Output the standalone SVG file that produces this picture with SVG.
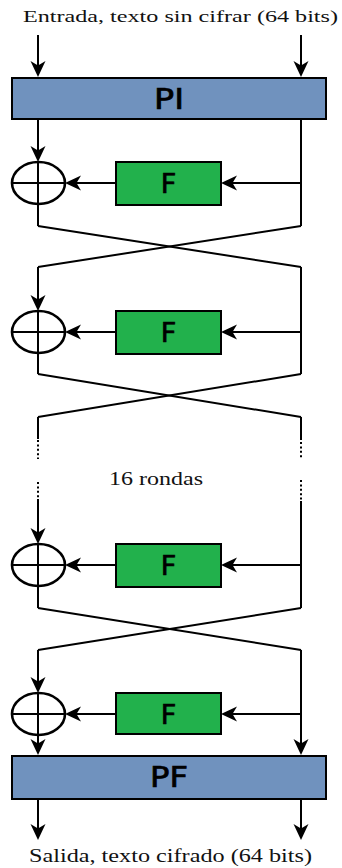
<svg xmlns="http://www.w3.org/2000/svg" width="342" height="868" viewBox="0 0 342 868">
<defs>
<style>
.ln{fill:none;stroke:#000;stroke-width:2}
.dot{fill:none;stroke:#000;stroke-width:2;stroke-dasharray:2 2.4}
.arr{marker-end:url(#ah)}
.perm{fill:#7092BE;stroke:#000;stroke-width:2}
.fbox{fill:#22B14C;stroke:#000;stroke-width:2}
.xor{fill:none;stroke:#000;stroke-width:2.6}
.lbl{font-family:"DejaVu Sans",sans-serif;fill:#000;stroke:#000;stroke-width:0.7;text-anchor:middle}
.cap{font-family:"Liberation Serif",serif;fill:#111}
</style>
<marker id="ah" markerUnits="userSpaceOnUse" viewBox="0 -8 16 16" refX="13" refY="0" markerWidth="16" markerHeight="16" orient="auto">
<path d="M0,-7.5 L16,0 L0,7.5 L4.5,0 Z" fill="#000"/>
</marker>
</defs>
<rect width="342" height="868" fill="#fff"/>

<text class="cap" x="23" y="22" font-size="17" textLength="315" lengthAdjust="spacingAndGlyphs">Entrada, texto sin cifrar (64 bits)</text>

<g id="connectors">
<!-- input arrows -->
<line class="ln arr" x1="38" y1="35" x2="38" y2="74"/>
<line class="ln arr" x1="301" y1="35" x2="301" y2="74"/>
<!-- round 1 -->
<line class="ln arr" x1="38" y1="119" x2="38" y2="159"/>
<line class="ln" x1="38" y1="204" x2="38" y2="226"/>
<line class="ln" x1="301" y1="119" x2="301" y2="226"/>
<line class="ln arr" x1="301" y1="183" x2="224" y2="183"/>
<line class="ln arr" x1="116" y1="183" x2="68" y2="183"/>
<polyline class="ln" points="38,226 301,267"/>
<polyline class="ln" points="301,226 38,267"/>
<!-- round 2 -->
<line class="ln arr" x1="38" y1="267" x2="38" y2="308"/>
<line class="ln" x1="38" y1="353" x2="38" y2="374"/>
<line class="ln" x1="301" y1="267" x2="301" y2="374"/>
<line class="ln arr" x1="301" y1="332" x2="224" y2="332"/>
<line class="ln arr" x1="116" y1="332" x2="68" y2="332"/>
<polyline class="ln" points="38,374 301,417"/>
<polyline class="ln" points="301,374 38,417"/>
<!-- continuation -->
<line class="ln" x1="38" y1="417" x2="38" y2="439"/>
<line class="dot" x1="38" y1="440" x2="38" y2="459"/>
<line class="ln" x1="301" y1="417" x2="301" y2="440"/>
<line class="dot" x1="301" y1="442" x2="301" y2="458"/>
<line class="dot" x1="38" y1="482" x2="38" y2="498"/>
<line class="dot" x1="301" y1="480" x2="301" y2="500"/>
<!-- round 3 -->
<line class="ln arr" x1="38" y1="499" x2="38" y2="541"/>
<line class="ln" x1="38" y1="586" x2="38" y2="608"/>
<line class="ln" x1="301" y1="501" x2="301" y2="608"/>
<line class="ln arr" x1="301" y1="565" x2="224" y2="565"/>
<line class="ln arr" x1="116" y1="565" x2="68" y2="565"/>
<polyline class="ln" points="38,608 301,650"/>
<polyline class="ln" points="301,608 38,650"/>
<!-- round 4 -->
<line class="ln arr" x1="38" y1="650" x2="38" y2="690"/>
<line class="ln arr" x1="38" y1="735" x2="38" y2="752"/>
<line class="ln arr" x1="301" y1="650" x2="301" y2="752"/>
<line class="ln arr" x1="301" y1="714" x2="224" y2="714"/>
<line class="ln arr" x1="116" y1="714" x2="68" y2="714"/>
<!-- outputs -->
<line class="ln arr" x1="38" y1="799" x2="38" y2="837"/>
<line class="ln arr" x1="301" y1="799" x2="301" y2="837"/>
</g>

<g id="PI">
<rect class="perm" x="12" y="78" width="314" height="41"/>
<text class="lbl" x="169" y="109" font-size="28" textLength="30" lengthAdjust="spacingAndGlyphs">PI</text>
</g>

<g id="xor1"><ellipse class="xor" cx="38.5" cy="183" rx="26.5" ry="21"/><line class="ln" x1="12" y1="183" x2="65" y2="183"/><line class="ln" x1="38" y1="161" x2="38" y2="205"/></g>
<g id="F1"><rect class="fbox" x="116" y="162" width="105" height="43"/><text class="lbl" x="168.5" y="193" font-size="27">F</text></g>

<g id="xor2"><ellipse class="xor" cx="38.5" cy="332" rx="26.5" ry="21"/><line class="ln" x1="12" y1="332" x2="65" y2="332"/><line class="ln" x1="38" y1="310" x2="38" y2="354"/></g>
<g id="F2"><rect class="fbox" x="116" y="311" width="105" height="43"/><text class="lbl" x="168.5" y="342" font-size="27">F</text></g>

<g id="rondas"><text class="cap" x="109" y="485" font-size="19" textLength="94" lengthAdjust="spacingAndGlyphs">16 rondas</text></g>

<g id="xor3"><ellipse class="xor" cx="38.5" cy="565" rx="26.5" ry="21"/><line class="ln" x1="12" y1="565" x2="65" y2="565"/><line class="ln" x1="38" y1="543" x2="38" y2="587"/></g>
<g id="F3"><rect class="fbox" x="116" y="544" width="105" height="43"/><text class="lbl" x="168.5" y="575" font-size="27">F</text></g>

<g id="xor4"><ellipse class="xor" cx="38.5" cy="714" rx="26.5" ry="21"/><line class="ln" x1="12" y1="714" x2="65" y2="714"/><line class="ln" x1="38" y1="692" x2="38" y2="736"/></g>
<g id="F4"><rect class="fbox" x="116" y="693" width="105" height="41"/><text class="lbl" x="168.5" y="724" font-size="27">F</text></g>

<g id="PF">
<rect class="perm" x="12" y="756" width="314" height="43"/>
<text class="lbl" x="169" y="787" font-size="28" textLength="38" lengthAdjust="spacingAndGlyphs">PF</text>
</g>

<text class="cap" x="29" y="862" font-size="18" textLength="283" lengthAdjust="spacingAndGlyphs">Salida, texto cifrado (64 bits)</text>
</svg>
